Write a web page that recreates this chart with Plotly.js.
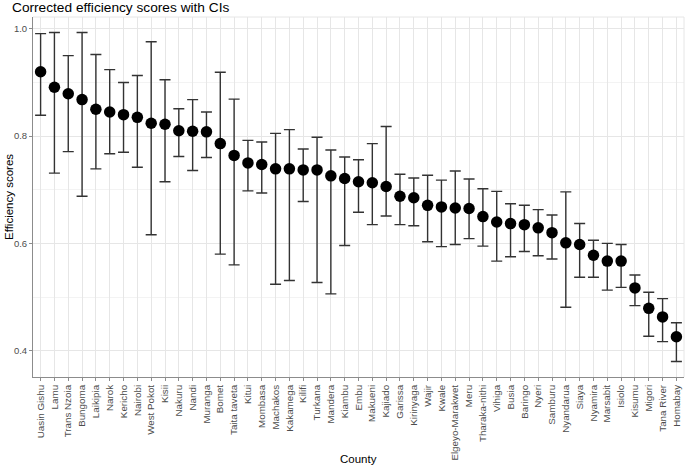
<!DOCTYPE html>
<html>
<head>
<meta charset="utf-8">
<script src="https://cdn.plot.ly/plotly-3.0.1.min.js"></script>
<style>html,body{margin:0;padding:0;background:#fff;} #chart{width:685px;height:467px;}</style>
</head>
<body>
<div id="chart"></div>
<script>
const counties = ["Uasin Gishu","Lamu","Trans Nzoia","Bungoma","Laikipia","Narok","Kericho","Nairobi","West Pokot","Kisii","Nakuru","Nandi","Muranga","Bomet","Taita taveta","Kitui","Mombasa","Machakos","Kakamega","Kilifi","Turkana","Mandera","Kiambu","Embu","Makueni","Kajiado","Garissa","Kirinyaga","Wajir","Kwale","Elgeyo-Marakwet","Meru","Tharaka-nithi","Vihiga","Busia","Baringo","Nyeri","Samburu","Nyandarua","Siaya","Nyamira","Marsabit","Isiolo","Kisumu","Migori","Tana River","Homabay"];
const scores = [0.920,0.891,0.879,0.868,0.850,0.845,0.840,0.835,0.824,0.822,0.810,0.809,0.808,0.786,0.764,0.750,0.747,0.739,0.739,0.737,0.737,0.726,0.721,0.715,0.713,0.706,0.688,0.685,0.671,0.668,0.666,0.665,0.650,0.640,0.637,0.635,0.629,0.620,0.601,0.598,0.578,0.567,0.567,0.517,0.479,0.463,0.426];
const upper = [0.991,0.993,0.950,0.993,0.952,0.924,0.900,0.913,0.976,0.905,0.851,0.868,0.845,0.919,0.869,0.792,0.789,0.805,0.812,0.776,0.798,0.774,0.761,0.756,0.786,0.818,0.729,0.722,0.727,0.718,0.735,0.720,0.702,0.697,0.674,0.671,0.663,0.653,0.696,0.637,0.606,0.600,0.598,0.541,0.509,0.497,0.452];
const lower = [0.839,0.731,0.771,0.688,0.739,0.767,0.770,0.742,0.616,0.715,0.762,0.736,0.760,0.580,0.560,0.698,0.694,0.524,0.531,0.678,0.527,0.506,0.596,0.658,0.635,0.651,0.635,0.633,0.603,0.594,0.598,0.609,0.595,0.567,0.575,0.585,0.577,0.571,0.481,0.537,0.537,0.513,0.518,0.484,0.427,0.417,0.380];

const plus = scores.map((s,i)=>upper[i]-s);
const minus = scores.map((s,i)=>s-lower[i]);

const font = "Liberation Sans, Arial, sans-serif";

const trace = {
  type: "scatter",
  mode: "markers",
  x: counties,
  y: scores,
  marker: {color: "#000000", size: 11.5},
  error_y: {type: "data", symmetric: false, array: plus, arrayminus: minus, color: "#333333", thickness: 1.4, width: 5.5},
  hoverinfo: "x+y"
};

const layout = {
  width: 685, height: 467,
  margin: {l: 33, r: 1, t: 17, b: 90, pad: 0},
  paper_bgcolor: "#ffffff", plot_bgcolor: "#ffffff",
  font: {family: font, color: "#000"},
  showlegend: false,
  title: {text: "Corrected efficiency scores with CIs", x: 12/685, xref: "container", xanchor: "left", y: 1 - 7/467, yref: "container", yanchor: "middle", font: {size: 13.7, family: font, color: "#000"}},
  xaxis: {
    type: "category",
    categoryorder: "array", categoryarray: counties,
    range: [-0.55, 46.55],
    tickangle: -90,
    tickfont: {size: 9.8, family: font, color: "#4d4d4d"},
    showgrid: true, gridcolor: "#e6e6e6", gridwidth: 1,
    ticks: "outside", ticklen: 3, tickcolor: "#8c8c8c", tickwidth: 1,
    showline: true, linecolor: "#8c8c8c", linewidth: 1,
    zeroline: false, automargin: false
  },
  yaxis: {
    range: [0.351, 1.022],
    tick0: 0.4, dtick: 0.2,
    tickformat: ".1f",
    tickfont: {size: 9.5, family: font, color: "#4d4d4d"},
    showgrid: true, gridcolor: "#e6e6e6", gridwidth: 1,
    minor: {dtick: 0.1, tick0: 0.4, showgrid: true, gridcolor: "#f3f3f3", gridwidth: 1},
    ticks: "outside", ticklen: 3, tickcolor: "#8c8c8c", tickwidth: 1,
    showline: true, linecolor: "#8c8c8c", linewidth: 1,
    zeroline: false, automargin: false
  },
  annotations: [
    {text: "County", xref: "paper", yref: "paper", x: 0.5, y: -(459-377)/360, xanchor: "center", yanchor: "middle", showarrow: false, font: {size: 11.5, family: font, color: "#000"}},
    {text: "Efficiency scores", xref: "paper", yref: "paper", x: -(33-9)/651, y: 0.5, xanchor: "center", yanchor: "middle", textangle: -90, showarrow: false, font: {size: 11.5, family: font, color: "#000"}}
  ],
  shapes: [
    {type: "line", xref: "paper", yref: "paper", x0: 0, x1: 1, y0: 1, y1: 1, line: {color: "#e6e6e6", width: 1}},
    {type: "line", xref: "paper", yref: "paper", x0: 1, x1: 1, y0: 0, y1: 1, line: {color: "#e6e6e6", width: 1}}
  ]
};

Plotly.newPlot("chart", [trace], layout, {displayModeBar: false, staticPlot: true});
</script>
</body>
</html>
